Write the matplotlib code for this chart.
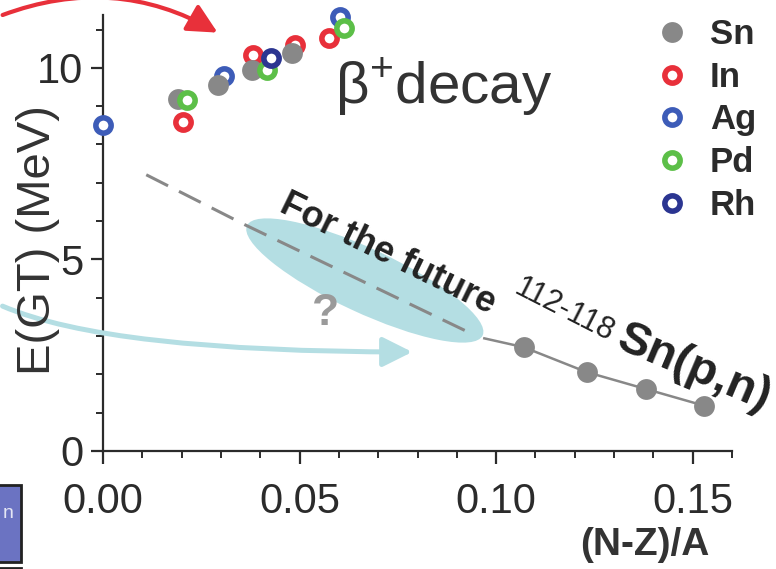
import numpy as np
import matplotlib
matplotlib.use("Agg")
import matplotlib.pyplot as plt
import matplotlib.transforms as mtransforms
from matplotlib.patches import Ellipse, FancyArrowPatch, Rectangle
from matplotlib.ticker import MultipleLocator, FormatStrFormatter

plt.rcParams['font.family'] = ['Liberation Sans', 'DejaVu Sans']
plt.rcParams['mathtext.fontset'] = 'custom'
plt.rcParams['mathtext.rm'] = 'Liberation Sans'
plt.rcParams['mathtext.bf'] = 'Liberation Sans:bold'

# beta+ decay, E(GT) (MeV) against (N-Z)/A
sn_x = [0.0190, 0.0293, 0.0378, 0.0480]
sn_y = [9.20, 9.56, 9.95, 10.38]
in_x = [0.0204, 0.0382, 0.0488, 0.0576]
in_y = [8.60, 10.34, 10.60, 10.77]
ag_x = [0.0000, 0.0308, 0.0603]
ag_y = [8.52, 9.80, 11.33]
pd_x = [0.0214, 0.0416, 0.0614]
pd_y = [9.15, 9.95, 11.03]
rh_x = [0.0427]
rh_y = [10.25]

# 112-118Sn(p,n)
pn_x = [0.107, 0.123, 0.138, 0.153]
pn_y = [2.71, 2.06, 1.62, 1.18]

# extrapolated trend (dashed part)
trend_x = [0.011, 0.036, 0.094]
trend_y = [7.21, 5.91, 3.05]
# short solid piece joining trend to first (p,n) point
join_x = [0.097, 0.107]
join_y = [2.94, 2.71]

x_ticks = [0.00, 0.05, 0.10, 0.15]
y_ticks = [0, 5, 10]

GRAY = '#888888'
DARK = '#2b2b2b'
RED = '#e8303a'
CYAN = '#b4dee3'


def main():
    fig = plt.figure(figsize=(7.76, 5.69), dpi=100)
    ax = fig.add_axes([103 / 776, 1 - 451 / 569, 629 / 776, 436 / 569])

    ax.set_xlim(0, 0.16)
    ax.set_ylim(0, 11.38)
    for s in ['top', 'right']:
        ax.spines[s].set_visible(False)
    for s in ['left', 'bottom']:
        ax.spines[s].set_linewidth(1.6)
        ax.spines[s].set_color(DARK)

    ax.set_xticks(x_ticks)
    ax.set_yticks(y_ticks)
    ax.xaxis.set_major_formatter(FormatStrFormatter('%.2f'))
    ax.xaxis.set_minor_locator(MultipleLocator(0.01))
    ax.yaxis.set_minor_locator(MultipleLocator(1))
    ax.tick_params(which='major', direction='out', length=9, width=1.6,
                   color=DARK, labelsize=30, labelcolor=DARK)
    ax.tick_params(which='minor', direction='out', length=5, width=1.4, color=DARK)
    ax.tick_params(axis='x', which='major', pad=13)
    ax.tick_params(axis='y', which='major', pad=5)

    # light blue "future" region
    center = mtransforms.ScaledTranslation(0.0666, 4.45, ax.transData)
    ax.add_patch(Ellipse((0, 0), 2.60, 0.64, angle=-25, facecolor=CYAN,
                         edgecolor='none', zorder=1,
                         transform=fig.dpi_scale_trans + center))

    ax.plot(trend_x, trend_y, color=GRAY, lw=2.2, dashes=(8, 4), zorder=2)
    ax.plot(join_x, join_y, color=GRAY, lw=1.8, zorder=2)
    ax.plot(pn_x, pn_y, color=GRAY, lw=1.8, zorder=2)
    ax.plot(pn_x, pn_y, 'o', color=GRAY, ms=15, mec='none', zorder=4,
            clip_on=False)

    ring = dict(ls='none', marker='o', mfc='white', ms=11, mew=4,
                clip_on=False)
    h_ag, = ax.plot(ag_x, ag_y, mec='#3d5cb8', zorder=3, label='Ag', **ring)
    h_in, = ax.plot(in_x, in_y, mec=RED, zorder=4, label='In', **ring)
    h_sn, = ax.plot(sn_x, sn_y, 'o', ls='none', color=GRAY, ms=15,
                    mec='none', zorder=5, label='Sn', clip_on=False)
    h_pd, = ax.plot(pd_x, pd_y, mec='#5cbf48', zorder=6, label='Pd', **ring)
    h_rh, = ax.plot(rh_x, rh_y, mec='#2b3591', zorder=7, label='Rh', **ring)

    leg = ax.legend(handles=[h_sn, h_in, h_ag, h_pd, h_rh],
                    loc='upper left', bbox_to_anchor=(0.86, 1.025),
                    frameon=False, handlelength=0.8, handletextpad=0.7,
                    labelspacing=0.28, borderaxespad=0,
                    prop={'weight': 'bold', 'size': 25})
    for t in leg.get_texts():
        t.set_color(DARK)
    leg.set_zorder(8)

    ax.text(0.0867, 9.48, r'β$^{\mathrm{+}}$decay', fontsize=42, color='#333333',
            ha='center', va='center')
    ax.text(0.0725, 5.13, 'For the future', fontsize=26, fontweight='bold',
            color='#222222', rotation=-26, rotation_mode='anchor',
            ha='center', va='center', zorder=9)
    ax.text(0.1173, 3.67, '112-118', fontsize=22, color='#222222',
            rotation=-27, rotation_mode='anchor', ha='center', va='center',
            zorder=9)
    ax.text(0.1503, 2.14, 'Sn(p,n)', fontsize=34, fontweight='bold',
            color='#222222', rotation=-23, rotation_mode='anchor',
            ha='center', va='center', zorder=9)
    ax.text(0.0565, 3.58, '?', fontsize=32, fontweight='bold', color='#9a9a9a',
            ha='center', va='center', zorder=9)

    fig.text(38 / 776, 1 - 240 / 569, 'E(GT) (MeV)', rotation=90, fontsize=34,
             color='#333333', ha='center', va='center')
    fig.text(645 / 776, 1 - 545 / 569, '(N-Z)/A', fontsize=28,
             fontweight='bold', color='#333333', ha='center', va='center')

    # arrows coming in from the left of the slide
    fig.patches.append(FancyArrowPatch(
        (0, 1 - 305 / 569), (415 / 776, 1 - 352 / 569),
        transform=fig.transFigure, connectionstyle='angle3,angleA=-24,angleB=0',
        arrowstyle='-|>,head_length=0.9,head_width=0.45', mutation_scale=20,
        color=CYAN, lw=3.6, zorder=2))
    fig.patches.append(FancyArrowPatch(
        (0, 1 - 16 / 569), (220 / 776, 1 - 34 / 569),
        transform=fig.transFigure, connectionstyle='arc3,rad=-0.24',
        arrowstyle='-|>,head_length=0.9,head_width=0.45', mutation_scale=20,
        color=RED, lw=3, zorder=2))

    # clipped box of the neighbouring slide panel
    fig.patches.append(Rectangle((-0.01, 7 / 569), 21 / 776 + 0.01, 77 / 569,
                                 transform=fig.transFigure, facecolor='#6b73c2',
                                 edgecolor='#222222', lw=2))
    fig.patches.append(Rectangle((-0.01, -0.01), 21 / 776 + 0.01, 7 / 569,
                                 transform=fig.transFigure, facecolor='#6b73c2',
                                 edgecolor='#222222', lw=2))
    fig.text(8 / 776, 1 - 514 / 569, 'n', fontsize=14, color='#e4e6f4',
             ha='center', va='center')

    fig.savefig('out.png', dpi=100)
    plt.close(fig)


if __name__ == '__main__':
    main()
